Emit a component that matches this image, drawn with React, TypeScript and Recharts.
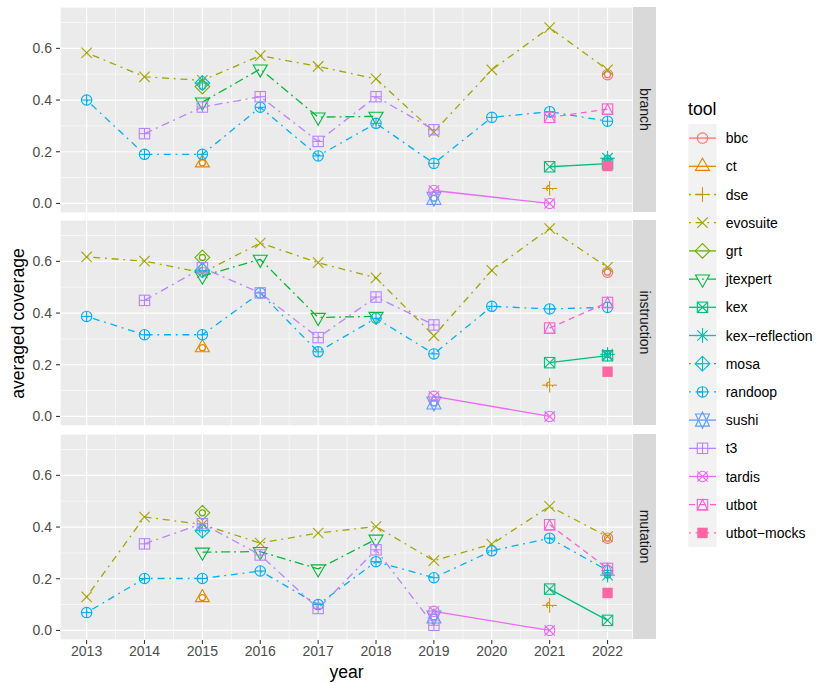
import { CartesianGrid, Line, LineChart, XAxis, YAxis } from "recharts";

const FONT = "'Liberation Sans', Arial, Helvetica, sans-serif";

const YEARS = [2013, 2014, 2015, 2016, 2017, 2018, 2019, 2020, 2021, 2022];
const MINOR_X = [2013.5, 2014.5, 2015.5, 2016.5, 2017.5, 2018.5, 2019.5, 2020.5, 2021.5];
const Y_TICKS = [0, 0.2, 0.4, 0.6];
const MINOR_Y = [0.1, 0.3, 0.5, 0.7];
const X_DOMAIN: [number, number] = [2012.54, 2022.44];
const Y_DOMAIN: [number, number] = [-0.037, 0.76];

const FACETS = ["branch", "instruction", "mutation"] as const;
type Facet = (typeof FACETS)[number];

const TOOLS = [
  "bbc", "ct", "dse", "evosuite", "grt", "jtexpert", "kex", "kex\u2212reflection",
  "mosa", "randoop", "sushi", "t3", "tardis", "utbot", "utbot\u2212mocks"
];
const COLORS = [
  "#F8766D", "#E58700", "#C99800", "#A3A500", "#6BB100", "#00BA38", "#00BF7D", "#00C0AF",
  "#00BCD8", "#00B0F6", "#619CFF", "#B983FF", "#E76BF3", "#FD61D1", "#FF67A4"
];
const SHAPES = [1, 2, 3, 4, 5, 6, 7, 8, 9, 10, 11, 12, 13, 14, 15];
const DOTDASH = "1.8 4.8 7 4.8";
const DASHES = [
  "", "", DOTDASH, DOTDASH, "", "9 4 1.8 4", "", "", DOTDASH, DOTDASH, "", "8 4.5 2 4.5", "", "6 4.5", DOTDASH
];

const _ = null;
type Vals = (number | null)[];
type ToolData = Record<Facet, Vals>;

// values per year 2013..2022
const bbc: ToolData = {
  branch:      [_, _, _, _, _, _, _, _, _, 0.498],
  instruction: [_, _, _, _, _, _, _, _, _, 0.558],
  mutation:    [_, _, _, _, _, _, _, _, _, 0.357]
};
const ct: ToolData = {
  branch:      [_, _, 0.157, _, _, _, _, _, _, _],
  instruction: [_, _, 0.266, _, _, _, _, _, _, _],
  mutation:    [_, _, 0.127, _, _, _, _, _, _, _]
};
const dse: ToolData = {
  branch:      [_, _, _, _, _, _, _, _, 0.058, _],
  instruction: [_, _, _, _, _, _, _, _, 0.121, _],
  mutation:    [_, _, _, _, _, _, _, _, 0.097, _]
};
const evosuite: ToolData = {
  branch:      [0.583, 0.49, 0.476, 0.572, 0.53, 0.482, 0.277, 0.517, 0.68, 0.517],
  instruction: [0.617, 0.601, 0.556, 0.671, 0.595, 0.536, 0.312, 0.565, 0.727, 0.577],
  mutation:    [0.13, 0.439, 0.41, 0.338, 0.377, 0.402, 0.27, 0.334, 0.48, 0.363]
};
const grt: ToolData = {
  branch:      [_, _, 0.452, _, _, _, _, _, _, _],
  instruction: [_, _, 0.615, _, _, _, _, _, _, _],
  mutation:    [_, _, 0.455, _, _, _, _, _, _, _]
};
const jtexpert: ToolData = {
  branch:      [_, _, 0.392, 0.52, 0.334, 0.337, _, _, _, _],
  instruction: [_, _, 0.543, 0.608, 0.383, 0.387, _, _, _, _],
  mutation:    [_, _, 0.303, 0.305, 0.238, 0.353, _, _, _, _]
};
const kex: ToolData = {
  branch:      [_, _, _, _, _, _, _, _, 0.142, 0.154],
  instruction: [_, _, _, _, _, _, _, _, 0.208, 0.235],
  mutation:    [_, _, _, _, _, _, _, _, 0.16, 0.039]
};
const kexReflection: ToolData = {
  branch:      [_, _, _, _, _, _, _, _, _, 0.175],
  instruction: [_, _, _, _, _, _, _, _, _, 0.24],
  mutation:    [_, _, _, _, _, _, _, _, _, 0.214]
};
const mosa: ToolData = {
  branch:      [_, _, 0.466, _, _, _, _, _, _, _],
  instruction: [_, _, 0.565, _, _, _, _, _, _, _],
  mutation:    [_, _, 0.386, _, _, _, _, _, _, _]
};
const randoop: ToolData = {
  branch:      [0.4, 0.19, 0.19, 0.372, 0.184, 0.31, 0.155, 0.333, 0.355, 0.318],
  instruction: [0.387, 0.316, 0.316, 0.478, 0.25, 0.38, 0.242, 0.426, 0.416, 0.422],
  mutation:    [0.069, 0.201, 0.201, 0.23, 0.1, 0.266, 0.204, 0.308, 0.357, 0.232]
};
const sushi: ToolData = {
  branch:      [_, _, _, _, _, _, 0.02, _, _, _],
  instruction: [_, _, _, _, _, _, 0.052, _, _, _],
  mutation:    [_, _, _, _, _, _, 0.052, _, _, _]
};
const t3: ToolData = {
  branch:      [_, 0.27, 0.373, 0.413, 0.24, 0.413, 0.285, _, _, _],
  instruction: [_, 0.449, 0.575, 0.478, 0.305, 0.462, 0.354, _, _, _],
  mutation:    [_, 0.335, 0.413, 0.292, 0.085, 0.312, 0.02, _, _, _]
};
const tardis: ToolData = {
  branch:      [_, _, _, _, _, _, 0.05, _, 0.0, _],
  instruction: [_, _, _, _, _, _, 0.078, _, 0.0, _],
  mutation:    [_, _, _, _, _, _, 0.074, _, 0.0, _]
};
const utbot: ToolData = {
  branch:      [_, _, _, _, _, _, _, _, 0.333, 0.365],
  instruction: [_, _, _, _, _, _, _, _, 0.342, 0.441],
  mutation:    [_, _, _, _, _, _, _, _, 0.409, 0.24]
};
const utbotMocks: ToolData = {
  branch:      [_, _, _, _, _, _, _, _, _, 0.145],
  instruction: [_, _, _, _, _, _, _, _, _, 0.173],
  mutation:    [_, _, _, _, _, _, _, _, _, 0.145]
};

const TOOL_DATA: ToolData[] = [
  bbc, ct, dse, evosuite, grt, jtexpert, kex, kexReflection,
  mosa, randoop, sushi, t3, tardis, utbot, utbotMocks
];

const R0 = 5.2;
const TRC0 = 1.5551;
const TRC1 = 1.3468;
const TRC2 = 0.7776;

function Marker({ shape, cx, cy, color }: { shape: number; cx: number; cy: number; color: string }) {
  const st = { fill: "none", stroke: color, strokeWidth: 1.1 };
  const s = R0;
  const d = Math.SQRT2 * R0;
  const ln = (x1: number, y1: number, x2: number, y2: number, k: string) => (
    <line key={k} x1={x1} y1={y1} x2={x2} y2={y2} {...st} />
  );
  const plus = (h: number) => [ln(cx - h, cy, cx + h, cy, "ph"), ln(cx, cy - h, cx, cy + h, "pv")];
  const times = (h: number) => [
    ln(cx - h, cy - h, cx + h, cy + h, "t1"),
    ln(cx - h, cy + h, cx + h, cy - h, "t2")
  ];
  const circle = <circle key="c" cx={cx} cy={cy} r={s} {...st} />;
  const square = <rect key="s" x={cx - s} y={cy - s} width={2 * s} height={2 * s} {...st} />;
  const diamond = (
    <polygon key="d" points={`${cx},${cy - d} ${cx + d},${cy} ${cx},${cy + d} ${cx - d},${cy}`} {...st} />
  );
  const r = TRC0 * s;
  const yc = TRC2 * s;
  const xc = TRC1 * s;
  let parts: any[] = [];
  switch (shape) {
    case 1: parts = [circle]; break;
    case 2:
      parts = [<polygon key="tr" points={`${cx},${cy - r} ${cx + xc},${cy + yc} ${cx - xc},${cy + yc}`} {...st} />];
      break;
    case 3: parts = plus(d); break;
    case 4: parts = times(s); break;
    case 5: parts = [diamond]; break;
    case 6:
      parts = [<polygon key="tr" points={`${cx},${cy + r} ${cx + xc},${cy - yc} ${cx - xc},${cy - yc}`} {...st} />];
      break;
    case 7: parts = [square, ...times(s)]; break;
    case 8: parts = [...times(s), ...plus(d)]; break;
    case 9: parts = [diamond, ...plus(d)]; break;
    case 10: parts = [circle, ...plus(s)]; break;
    case 11: {
      const y2 = 0.5 * (yc + r);
      parts = [
        <polygon key="a" points={`${cx},${cy + r} ${cx + xc},${cy - y2} ${cx - xc},${cy - y2}`} {...st} />,
        <polygon key="b" points={`${cx},${cy - r} ${cx + xc},${cy + y2} ${cx - xc},${cy + y2}`} {...st} />
      ];
      break;
    }
    case 12: parts = [square, ...plus(s)]; break;
    case 13: parts = [circle, ...times(s)]; break;
    case 14:
      parts = [
        square,
        <polygon key="tr" points={`${cx},${cy - s} ${cx + s},${cy + s} ${cx - s},${cy + s}`} {...st} />
      ];
      break;
    case 15:
      parts = [<rect key="f" x={cx - s} y={cy - s} width={2 * s} height={2 * s} fill={color} stroke="none" />];
      break;
  }
  return <g>{parts}</g>;
}

function seriesFor(ti: number, facet: Facet) {
  return YEARS.map((year, i) => ({ year, v: TOOL_DATA[ti][facet][i] })).filter((p) => p.v !== null);
}

const PANEL_W = 633;
const PANEL_H = 206;

function FacetChart({ facet, showX }: { facet: Facet; showX: boolean }) {
  const tickStyle = { fontSize: 14, fill: "#4D4D4D", fontFamily: FONT };
  return (
    <LineChart
      width={PANEL_W}
      height={showX ? PANEL_H + 30 : PANEL_H}
      margin={{ top: 0, right: 0, bottom: 0, left: 0 }}
    >
      <XAxis xAxisId="minor" type="number" dataKey="year" domain={X_DOMAIN} allowDataOverflow ticks={MINOR_X} hide />
      <YAxis yAxisId="minor" type="number" domain={Y_DOMAIN} allowDataOverflow ticks={MINOR_Y} hide />
      <XAxis
        xAxisId="major"
        type="number"
        dataKey="year"
        domain={X_DOMAIN}
        allowDataOverflow
        ticks={YEARS}
        hide={!showX}
        height={30}
        axisLine={false}
        tickSize={4}
        tickMargin={2}
        tickLine={{ stroke: "#333333", strokeWidth: 1.07 }}
        tick={tickStyle}
        interval={0}
      />
      <YAxis
        yAxisId="major"
        type="number"
        domain={Y_DOMAIN}
        allowDataOverflow
        ticks={Y_TICKS}
        width={60}
        axisLine={false}
        tickSize={4}
        tickMargin={4}
        tickLine={{ stroke: "#333333", strokeWidth: 1.07 }}
        tick={tickStyle}
        tickFormatter={(v: number) => v.toFixed(1)}
        interval={0}
      />
      <CartesianGrid xAxisId="minor" yAxisId="minor" fill="#EBEBEB" fillOpacity={1} stroke="#FFFFFF" strokeWidth={0.6} />
      <CartesianGrid xAxisId="major" yAxisId="major" stroke="#FFFFFF" strokeWidth={1.2} />
      {TOOLS.map((tool, ti) => (
        <Line
          key={`line-${tool}`}
          xAxisId="major"
          yAxisId="major"
          data={seriesFor(ti, facet)}
          dataKey="v"
          type="linear"
          stroke={COLORS[ti]}
          strokeWidth={1.3}
          strokeDasharray={DASHES[ti] || undefined}
          dot={false}
          activeDot={false}
          isAnimationActive={false}
        />
      ))}
      {TOOLS.map((tool, ti) => (
        <Line
          key={`pts-${tool}`}
          xAxisId="major"
          yAxisId="major"
          data={seriesFor(ti, facet)}
          dataKey="v"
          type="linear"
          stroke="none"
          activeDot={false}
          isAnimationActive={false}
          dot={(p: any) => (
            <Marker key={`${tool}-${p.index}`} shape={SHAPES[ti]} cx={p.cx} cy={p.cy} color={COLORS[ti]} />
          )}
        />
      ))}
    </LineChart>
  );
}

const PANEL_TOPS = [7, 220, 434];
const LEG_TOP = 124;
const LEG_ROW = 28.2;

export default function App() {
  return (
    <div style={{ position: "fixed", left: 0, top: 0, width: 817, height: 686, background: "#FFFFFF", fontFamily: FONT }}>
      <svg width={817} height={686} style={{ position: "absolute", left: 0, top: 0 }}>
        {FACETS.map((f, i) => (
          <g key={f}>
            <rect x={PANEL_W} y={PANEL_TOPS[i]} width={23} height={PANEL_H - 1} fill="#D9D9D9" />
            <text
              x={PANEL_W + 11.5}
              y={PANEL_TOPS[i] + (PANEL_H - 1) / 2}
              transform={`rotate(90 ${PANEL_W + 11.5} ${PANEL_TOPS[i] + (PANEL_H - 1) / 2})`}
              textAnchor="middle"
              dominantBaseline="central"
              fontSize={14}
              fill="#1A1A1A"
              fontFamily={FONT}
            >
              {f}
            </text>
          </g>
        ))}
        <text
          x={18}
          y={323.5}
          transform="rotate(-90 18 323.5)"
          textAnchor="middle"
          dominantBaseline="central"
          fontSize={17.6}
          fill="#000000"
          fontFamily={FONT}
        >
          averaged coverage
        </text>
        <text x={346.5} y={678} textAnchor="middle" fontSize={17.6} fill="#000000" fontFamily={FONT}>
          year
        </text>
        <text x={688} y={115} fontSize={17.6} fill="#000000" fontFamily={FONT}>
          tool
        </text>
        <rect x={688.3} y={LEG_TOP} width={28.4} height={LEG_ROW * TOOLS.length} fill="#F2F2F2" />
        {TOOLS.map((tool, i) => {
          const cy = LEG_TOP + LEG_ROW * (i + 0.5);
          return (
            <g key={tool}>
              <line
                x1={689}
                x2={716}
                y1={cy}
                y2={cy}
                stroke={COLORS[i]}
                strokeWidth={1.3}
                strokeDasharray={DASHES[i] || undefined}
              />
              <Marker shape={SHAPES[i]} cx={702.5} cy={cy} color={COLORS[i]} />
              <text x={725.7} y={cy} dominantBaseline="central" fontSize={14} fill="#000000" fontFamily={FONT}>
                {tool}
              </text>
            </g>
          );
        })}
      </svg>
      {FACETS.map((f, i) => (
        <div key={f} style={{ position: "absolute", left: 0, top: PANEL_TOPS[i] }}>
          <FacetChart facet={f} showX={i === FACETS.length - 1} />
        </div>
      ))}
    </div>
  );
}
